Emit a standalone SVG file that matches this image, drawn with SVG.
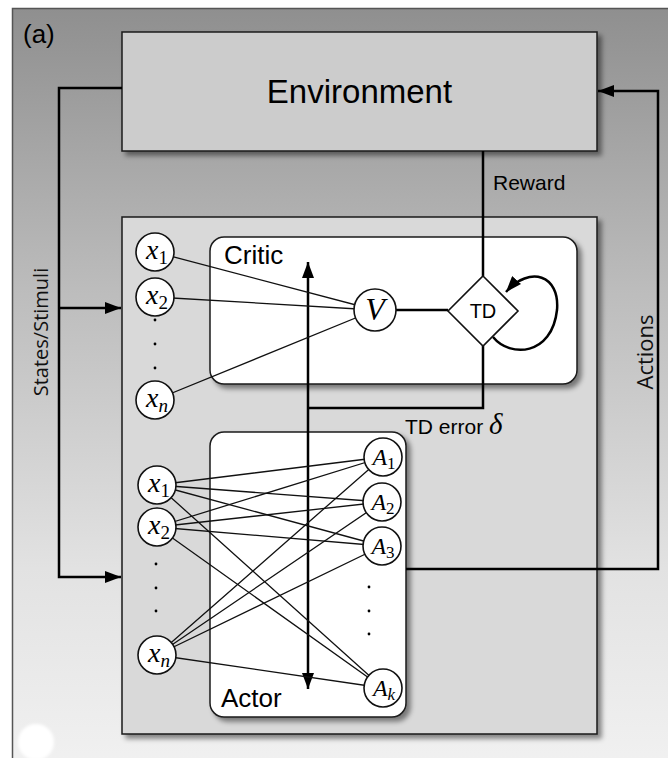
<svg xmlns="http://www.w3.org/2000/svg" width="668" height="758" viewBox="0 0 668 758">
<defs>
<linearGradient id="bg" x1="0" y1="0" x2="0" y2="1">
<stop offset="0" stop-color="#8f8f8f"/>
<stop offset="0.35" stop-color="#bcbcbc"/>
<stop offset="0.7" stop-color="#e2e2e2"/>
<stop offset="1" stop-color="#f4f4f4"/>
</linearGradient>
<filter id="sh" x="-10%" y="-10%" width="125%" height="125%">
<feDropShadow dx="4" dy="4" stdDeviation="2.5" flood-color="#000" flood-opacity="0.45"/>
</filter>
<filter id="blur"><feGaussianBlur stdDeviation="1.5"/></filter>
<marker id="arr" markerUnits="userSpaceOnUse" markerWidth="16" markerHeight="12" refX="16" refY="6" orient="auto-start-reverse">
<path d="M0,0 L16,6 L0,12 z" fill="#000"/>
</marker>
</defs>
<style>
.box{stroke:#1a1a1a;stroke-width:1.5}
.node{fill:#fff;stroke:#111;stroke-width:1.6}
.main{fill:none;stroke:#000;stroke-width:2.5}
.thin{fill:none;stroke:#111;stroke-width:1.3}
.sans{font-family:"Liberation Sans",Arial,sans-serif;fill:#000}
.hum{font-family:"Open Sans","DejaVu Sans",sans-serif;fill:#111}
.math{font-family:"Liberation Serif","Times New Roman",serif;fill:#000}
.xl{font-size:28px}
.sub{font-size:19px}
.al{font-size:24px}
.asub{font-size:17px}
.dot{fill:#000}
</style>
<rect x="12.5" y="8.5" width="700" height="800" fill="url(#bg)" stroke="#555" stroke-width="1.5"/>
<circle cx="36" cy="742" r="18" fill="#fff" filter="url(#blur)"/>
<text class="sans" x="23" y="43" font-size="26">(a)</text>

<g id="environment">
<rect class="box" x="122" y="32" width="475" height="119" fill="#cccccc" filter="url(#sh)"/>
<text class="sans" x="359.5" y="103" font-size="33" text-anchor="middle">Environment</text>
</g>

<g id="agent">
<rect class="box" x="122" y="217" width="475" height="517" fill="#d9d9d9" filter="url(#sh)"/>
</g>

<g id="critic">
<rect class="box" x="210" y="237" width="367" height="147" rx="14" fill="#fff" filter="url(#sh)"/>
<text class="sans" x="224" y="264" font-size="26">Critic</text>
</g>

<g id="actor">
<rect class="box" x="210" y="432" width="196" height="285" rx="14" fill="#fff" filter="url(#sh)"/>
<text class="sans" x="221" y="707" font-size="26">Actor</text>
</g>

<g id="connectors">
<path class="main" d="M122,88 H59 V577 H121" marker-end="url(#arr)"/>
<path class="main" d="M59,308 H121" marker-end="url(#arr)"/>
<path class="main" d="M406,569 H658 V91 H598" marker-end="url(#arr)"/>
<path class="main" d="M483,151 V276"/>
<path class="main" d="M396,310 H448"/>
<path class="main" d="M483,346 V408 H308"/>
<path class="main" d="M308,262 V689" marker-start="url(#arr)" marker-end="url(#arr)"/>
<path class="main" d="M493,337 C510,358 552,356 557,310 C560,275 530,265 506,292" marker-end="url(#arr)"/>
<path class="thin" d="M155,252 L375,310 M155,297 L375,310 M155,400 L375,310"/>
<path class="thin" d="M157,485 L383,457 M157,485 L382,502 M157,485 L382,546 M157,485 L383,688"/>
<path class="thin" d="M157,527 L383,457 M157,527 L382,502 M157,527 L382,546 M157,527 L383,688"/>
<path class="thin" d="M157,655 L383,457 M157,655 L382,502 M157,655 L382,546 M157,655 L383,688"/>
</g>

<g id="labels">
<text class="sans" x="493" y="190" font-size="21">Reward</text>
<text class="sans" x="405" y="434" font-size="21">TD error <tspan class="math" font-style="italic" font-size="29">δ</tspan></text>
<text class="hum" x="48" y="332" font-size="20" text-anchor="middle" transform="rotate(-90 48 332)">States/Stimuli</text>
<text class="hum" x="653" y="352" font-size="22" text-anchor="middle" transform="rotate(-90 653 352)">Actions</text>
</g>

<g id="V">
<circle class="node" cx="375" cy="310" r="21"/>
<text class="math" x="375" y="320" font-size="32" font-style="italic" text-anchor="middle">V</text>
</g>
<g id="TD">
<polygon class="node" points="483,276 518,311 483,346 448,311" stroke-width="2.2"/>
<text class="sans" x="483" y="318" font-size="20" text-anchor="middle">TD</text>
</g>

<g id="critic-x1"><circle class="node" cx="155" cy="252" r="19"/><text class="math xl" x="157" y="259" text-anchor="middle"><tspan font-style="italic">x</tspan><tspan class="sub" dy="5">1</tspan></text></g>
<g id="critic-x2"><circle class="node" cx="155" cy="297" r="19"/><text class="math xl" x="157" y="304" text-anchor="middle"><tspan font-style="italic">x</tspan><tspan class="sub" dy="5">2</tspan></text></g>
<g id="critic-dots"><circle class="dot" cx="155" cy="320" r="1.4"/><circle class="dot" cx="155" cy="344" r="1.4"/><circle class="dot" cx="155" cy="368" r="1.4"/></g>
<g id="critic-xn"><circle class="node" cx="155" cy="400" r="19"/><text class="math xl" x="157" y="407" text-anchor="middle"><tspan font-style="italic">x</tspan><tspan class="sub" font-style="italic" dy="5">n</tspan></text></g>

<g id="actor-x1"><circle class="node" cx="157" cy="485" r="19"/><text class="math xl" x="159" y="492" text-anchor="middle"><tspan font-style="italic">x</tspan><tspan class="sub" dy="5">1</tspan></text></g>
<g id="actor-x2"><circle class="node" cx="157" cy="527" r="19"/><text class="math xl" x="159" y="534" text-anchor="middle"><tspan font-style="italic">x</tspan><tspan class="sub" dy="5">2</tspan></text></g>
<g id="actor-dots"><circle class="dot" cx="156" cy="564" r="1.4"/><circle class="dot" cx="156" cy="588" r="1.4"/><circle class="dot" cx="156" cy="611" r="1.4"/></g>
<g id="actor-xn"><circle class="node" cx="157" cy="655" r="19"/><text class="math xl" x="159" y="662" text-anchor="middle"><tspan font-style="italic">x</tspan><tspan class="sub" font-style="italic" dy="5">n</tspan></text></g>

<g id="A1"><circle class="node" cx="383" cy="457" r="19"/><text class="math al" x="384" y="465" text-anchor="middle"><tspan font-style="italic">A</tspan><tspan class="asub" dy="4">1</tspan></text></g>
<g id="A2"><circle class="node" cx="382" cy="502" r="19"/><text class="math al" x="383" y="510" text-anchor="middle"><tspan font-style="italic">A</tspan><tspan class="asub" dy="4">2</tspan></text></g>
<g id="A3"><circle class="node" cx="382" cy="546" r="19"/><text class="math al" x="383" y="554" text-anchor="middle"><tspan font-style="italic">A</tspan><tspan class="asub" dy="4">3</tspan></text></g>
<g id="A-dots"><circle class="dot" cx="369" cy="587" r="1.4"/><circle class="dot" cx="369" cy="611" r="1.4"/><circle class="dot" cx="369" cy="634" r="1.4"/></g>
<g id="Ak"><circle class="node" cx="383" cy="688" r="19"/><text class="math al" x="384" y="696" text-anchor="middle"><tspan font-style="italic">A</tspan><tspan class="asub" font-style="italic" dy="4">k</tspan></text></g>
</svg>
